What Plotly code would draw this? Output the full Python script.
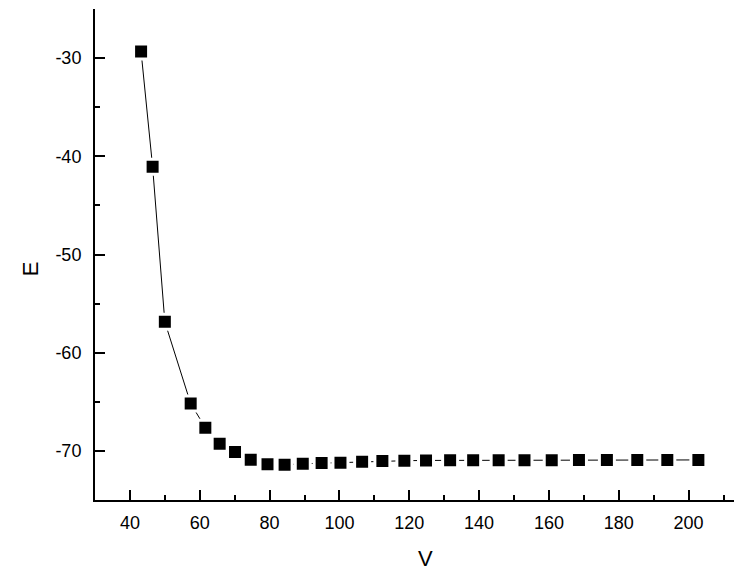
import plotly.graph_objects as go

V = [43.2, 46.5, 50.0, 57.4, 61.6, 65.7, 70.1, 74.6, 79.4, 84.3, 89.5, 94.9, 100.3,
     106.5, 112.3, 118.6, 124.8, 131.7, 138.3, 145.6, 153.0, 160.8, 168.6, 176.6,
     185.3, 193.9, 202.8]
E = [-29.34, -41.07, -56.86, -65.18, -67.63, -69.27, -70.12, -70.90, -71.35, -71.41,
     -71.31, -71.24, -71.20, -71.10, -71.04, -71.00, -70.97, -70.96, -70.95, -70.95,
     -70.94, -70.94, -70.93, -70.93, -70.92, -70.92, -70.92]

X_TICKS = [40, 60, 80, 100, 120, 140, 160, 180, 200]
Y_TICKS = [-70, -60, -50, -40, -30]
Y_LABELS = ["-70", "-60", "-50", "-40", "-30"]

FONT = "Liberation Sans, Arial, sans-serif"

fig = go.Figure()
fig.add_trace(go.Scatter(
    x=V, y=E, mode="lines+markers",
    line=dict(color="black", width=1),
    marker=dict(symbol="square", size=15, color="black",
                line=dict(color="white", width=3)),
    showlegend=False,
))

axis_common = dict(
    showgrid=False, zeroline=False, showline=True, linecolor="black", linewidth=2,
    ticks="inside", ticklen=10, tickwidth=2, tickcolor="black",
    tickfont=dict(family=FONT, size=18, color="black"),
    mirror=False, automargin=False,
)

fig.update_xaxes(
    **axis_common, range=[30, 213], tickmode="array", tickvals=X_TICKS,
    ticktext=[str(v) for v in X_TICKS],
    minor=dict(ticks="inside", ticklen=5, tickwidth=2, tickcolor="black", dtick=10, tick0=30),
    ticklabelstandoff=5,
)
fig.update_yaxes(
    **axis_common, range=[-75, -25], tickmode="array", tickvals=Y_TICKS, ticktext=Y_LABELS,
    minor=dict(ticks="inside", ticklen=5, tickwidth=2, tickcolor="black", dtick=5, tick0=-75),
    ticklabelstandoff=8,
)

fig.update_layout(
    width=737, height=569,
    margin=dict(l=87, r=11, t=1, b=77),
    paper_bgcolor="white", plot_bgcolor="white",
    font=dict(family=FONT, color="black"),
    annotations=[
        dict(text="V", xref="x", yref="paper", x=124.7, y=0, yshift=-58,
             showarrow=False, xanchor="center", yanchor="middle",
             font=dict(family=FONT, size=22, color="black")),
        dict(text="E", xref="paper", yref="y", x=0, y=-51.5, xshift=-65,
             showarrow=False, xanchor="center", yanchor="middle", textangle=-90,
             font=dict(family=FONT, size=22, color="black")),
    ],
)

fig.write_html("out.html")
